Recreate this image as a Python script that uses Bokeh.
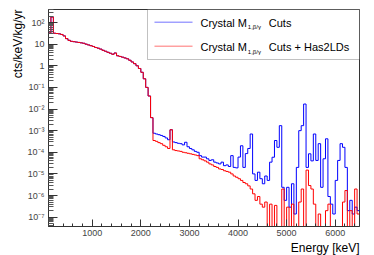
import numpy as np
from bokeh.plotting import figure
from bokeh.models import Range1d, FixedTicker, CustomJSTickFormatter, Label, BoxAnnotation, Title
from bokeh.embed import file_html
from bokeh.resources import INLINE

# ---------------- data ----------------
bin_width = 50          # keV
e_start = 100           # keV, first bin edge
e_stop = 6500           # keV, last bin edge

# bins 100 .. 2250 keV (identical for both selections)
common_low = [33, 180, 32, 31, 30, 28, 24, 18, 15, 13.5,
              13, 12.5, 12, 11.5, 11, 10, 9.2, 8.5, 7.8, 7.0,
              6.5, 5.9, 5.2, 4.7, 4.2, 3.8, 3.4, 3.9, 2.9, 2.7,
              2.5, 2.3, 2.1, 1.8, 1.5, 1.25, 1.0, 0.75, 0.5, 0.25,
              0.1, 0.04, 0.004]

# bins 2250 .. 6500 keV
blue_high = [7.6e-4, 7.0e-4, 6.5e-4, 6.0e-4, 5.4e-4, 4.6e-4, 3.8e-4, 1.1e-3, 3.0e-4, 2.8e-4,
             2.6e-4, 2.5e-4, 2.2e-4, 2.9e-4, 1.8e-4, 1.5e-4, 1.3e-4, 1.1e-4, 1.0e-4, 7e-5,
             6e-5, 6e-5, 5e-5, 4.2e-5, 4.5e-5, 3.5e-5, 3.2e-5, 2.9e-5, 3.5e-5, 2.4e-5,
             2.6e-5, 2.2e-5, 7e-5, 2e-5, 1.9e-5, 6e-5, 2e-4, 2e-5, 8.7e-5, 1.5e-4,
             7e-4, 1e-5, 5e-6, 1.2e-5, 6e-6, 3.5e-6, 8e-6, 5e-6, 3.5e-5, 5.9e-5,
             3.5e-4, 1.7e-4, 1.7e-3, 2.4e-6, 6e-7, 2.4e-6, 2.9e-7, 3.5e-6, 1.4e-7, 2e-5,
             1e-3, 1.7e-3, 1.7e-2, 2e-5, 8.5e-5, 4e-5, 7e-4, 4.2e-5, 2.5e-4, 2.4e-6,
             5e-5, 4.2e-4, 9e-7, 4e-7, 1.4e-7, 5e-6, 4.2e-5, 2.5e-4, 1.7e-4, 2e-5,
             2e-7, 6e-7, 1.4e-7, 2.9e-7, 2e-7]

red_high = [3.5e-4, 3.2e-4, 2.8e-4, 2.5e-4, 2.1e-4, 1.8e-4, 1.5e-4, 1.1e-3, 1.3e-4, 1.2e-4,
            1.15e-4, 1.1e-4, 1.0e-4, 9.5e-5, 9e-5, 8.5e-5, 8e-5, 7.5e-5, 7e-5, 5e-5,
            4.5e-5, 4e-5, 3.5e-5, 2.9e-5, 2.6e-5, 2.2e-5, 2e-5, 1.7e-5, 1.6e-5, 1.4e-5,
            1.3e-5, 1.2e-5, 1e-5, 8e-6, 7e-6, 6e-6, 5e-6, 4e-6, 3.5e-6, 2.8e-6,
            2e-6, 1.2e-6, 6e-7, 9e-7, 4e-7, 2.9e-7, 5e-7, 0, 4e-7, 0,
            3.5e-7, 0, 0, 2e-6, 0, 2.9e-7, 0, 4e-7, 0, 0,
            5e-7, 2e-6, 0, 1.5e-5, 2.9e-6, 2e-6, 4e-7, 0, 1.4e-7, 0,
            0, 2e-7, 4e-7, 0, 0, 0, 0, 0, 5e-7, 1.7e-6,
            0, 2e-7, 0, 2e-6, 1.4e-7]

series_names = ["Crystal M", "Crystal M"]
series_sub = ["1,\u03b2/\u03b3", "1,\u03b2/\u03b3"]
series_tail = ["Cuts", "Cuts + Has2LDs"]
series_colors = ["#0000ff", "#ff0000"]

x_title = "Energy [keV]"
y_title = "cts/keV/kg/yr"
x_major = [1000, 2000, 3000, 4000, 5000, 6000]
y_major = [1e-7, 1e-6, 1e-5, 1e-4, 1e-3, 1e-2, 1e-1, 1, 10, 100]

FONT = "Liberation Sans"


def step_xy(values):
    v = np.array(values, dtype=float)
    v = np.where(v > 0, v, 1e-9)     # empty bins drop to the frame bottom
    edges = e_start + bin_width * np.arange(len(v) + 1)
    xs = np.repeat(edges, 2)[1:-1]
    ys = np.repeat(v, 2)
    return xs, ys


blue_vals = common_low + blue_high
red_vals = common_low + red_high

p = figure(width=374, height=255, y_axis_type="log",
           x_range=Range1d(e_start, e_stop), y_range=Range1d(3.7e-8, 400),
           output_backend="svg", toolbar_location=None,
           min_border_left=48, min_border_right=15, min_border_top=9, min_border_bottom=29,
           background_fill_color="white", border_fill_color="white")
p.outline_line_color = "#333333"
p.outline_line_width = 1
p.grid.visible = False

bx, by = step_xy(blue_vals)
rx, ry = step_xy(red_vals)
p.line(bx, by, line_color=series_colors[0], line_width=1)
p.line(rx, ry, line_color=series_colors[1], line_width=1)

# x axis
minor_x = [v for v in range(200, 6500, 200) if v % 1000 != 0]
p.xaxis.ticker = FixedTicker(ticks=x_major, minor_ticks=minor_x)
p.xaxis.major_tick_in = 7
p.xaxis.major_tick_out = 0
p.xaxis.minor_tick_in = 3
p.xaxis.minor_tick_out = 0
p.xaxis.major_label_standoff = 3
p.xaxis.major_label_text_font = FONT
p.xaxis.major_label_text_font_size = "9px"
p.xaxis.axis_line_color = "#333333"
p.xaxis.major_tick_line_color = "#333333"
p.xaxis.minor_tick_line_color = "#333333"

# y axis
minor_y = [k * 10.0 ** e for e in range(-8, 3) for k in range(2, 10)]
p.yaxis.ticker = FixedTicker(ticks=y_major, minor_ticks=minor_y)
p.yaxis.formatter = CustomJSTickFormatter(code="""
const e = Math.round(Math.log10(tick));
if (e == 0) return "1";
if (e == 1) return "10";
const sup = {"-": "\u207b", "0": "\u2070", "1": "\u00b9", "2": "\u00b2", "3": "\u00b3",
             "4": "\u2074", "5": "\u2075", "6": "\u2076", "7": "\u2077", "8": "\u2078", "9": "\u2079"};
return "10" + String(e).split("").map(c => sup[c]).join("");
""")
p.yaxis.major_tick_in = 9
p.yaxis.major_tick_out = 0
p.yaxis.minor_tick_in = 5
p.yaxis.minor_tick_out = 0
p.yaxis.major_label_standoff = 4
p.yaxis.major_label_text_font = FONT
p.yaxis.major_label_text_font_size = "9px"
p.yaxis.axis_line_color = "#333333"
p.yaxis.major_tick_line_color = "#333333"
p.yaxis.minor_tick_line_color = "#555555"

# axis titles (ROOT style: aligned to the axis end)
p.add_layout(Title(text=x_title, align="right", text_font=FONT, text_font_size="12px",
                   text_font_style="normal", text_color="black", standoff=0, offset=0), "below")
p.add_layout(Title(text=y_title, align="right", text_font=FONT, text_font_size="12px",
                   text_font_style="normal", text_color="black", standoff=0, offset=0), "left")

# legend box
p.add_layout(BoxAnnotation(left=99, right=311, top=217, bottom=167,
                           left_units="screen", right_units="screen",
                           top_units="screen", bottom_units="screen",
                           fill_color="white", fill_alpha=1,
                           line_color="#333333", line_width=1))
sample_y = [204.3, 180.3]
text_base = [203.7, 179.3]
for i in range(2):
    p.add_layout(BoxAnnotation(left=106, right=144, top=sample_y[i], bottom=sample_y[i],
                               left_units="screen", right_units="screen",
                               top_units="screen", bottom_units="screen",
                               fill_alpha=0, line_color=series_colors[i], line_width=1))
    p.add_layout(Label(x=152, y=text_base[i], x_units="screen", y_units="screen",
                       text=series_names[i], text_baseline="alphabetic",
                       text_font=FONT, text_font_size="11px", text_color="black"))
    p.add_layout(Label(x=199.3, y=text_base[i] - 4.3, x_units="screen", y_units="screen",
                       text=series_sub[i], text_baseline="alphabetic",
                       text_font=FONT, text_font_size="6px", text_color="black"))
    p.add_layout(Label(x=220.3, y=text_base[i], x_units="screen", y_units="screen",
                       text=series_tail[i], text_baseline="alphabetic",
                       text_font=FONT, text_font_size="11px", text_color="black"))

open("out.html", "w").write(file_html(p, INLINE))
